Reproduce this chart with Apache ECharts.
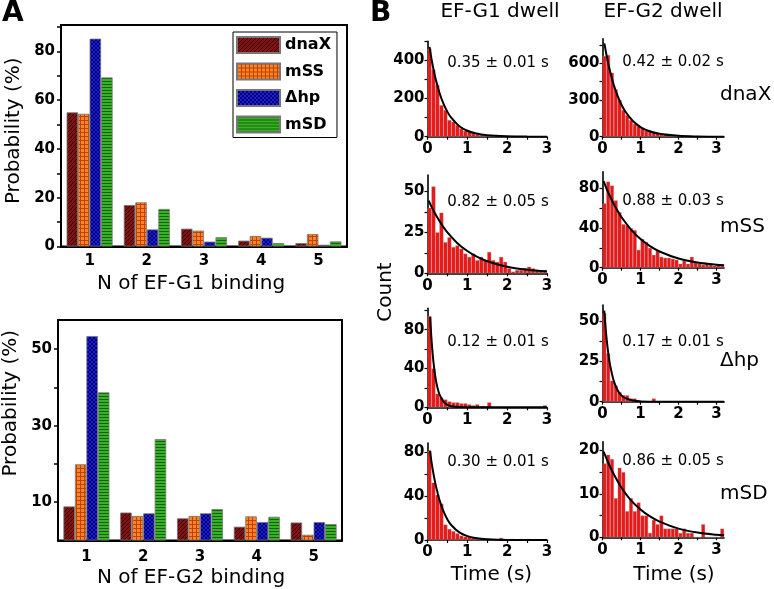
<!DOCTYPE html>
<html><head><meta charset="utf-8">
<script src="https://cdn.jsdelivr.net/npm/echarts@6/dist/echarts.min.js"></script>
<style>html,body{margin:0;padding:0;background:#fff}#c{width:774px;height:589px}</style>
</head><body><div id="c"></div>
<script>
// ---------- Panel A data ----------
const groups = ['1', '2', '3', '4', '5'];
const variants = ['dnaX', 'mSS', 'Δhp', 'mSD'];
const efg1_dnaX = [55.0, 17.0, 7.3, 2.4, 1.4];
const efg1_mSS  = [54.4, 18.1, 6.5, 4.3, 5.1];
const efg1_dhp  = [85.2, 7.0, 2.0, 3.6, 0.7];
const efg1_mSD  = [69.3, 15.4, 3.8, 1.4, 2.1];
const efg2_dnaX = [8.9, 7.3, 5.8, 3.6, 4.7];
const efg2_mSS  = [19.9, 6.4, 6.4, 6.3, 1.5];
const efg2_dhp  = [53.4, 7.1, 7.1, 4.8, 4.8];
const efg2_mSD  = [38.7, 26.5, 8.2, 6.2, 4.3];
const yTicksA1 = [0, 20, 40, 60, 80];
const yTicksA2 = [10, 30, 50];

// ---------- Panel B data ----------
const binCenters = [0.05,0.15,0.25,0.35,0.45,0.55,0.65,0.75,0.85,0.95,1.05,1.15,1.25,1.35,1.45,1.55,
                    1.65,1.75,1.85,1.95,2.05,2.15,2.25,2.35,2.45,2.55,2.65,2.75,2.85,2.95,3.05,3.15];
const hist_dnaX_G1 = [462,351,270,165,139,87,78,61,43,31,26,17,12,9,7,4,3,2,2,1,1,4,3,2,1,1,0,0,0,0];
const hist_dnaX_G2 = [660,668,523,387,300,218,177,136,104,87,68,49,41,33,27,22,16,12,9,7,5,4,3,2,2,1,1,1,0,0,0,0];
const hist_mSS_G1  = [40,53,25,37,19,22,16,17,15,12,10,12,8,10,8,13,8,7,10,7,3,1,2,2,3,4,3,2,1,1];
const hist_mSS_G2  = [65,87,83,68,56,44,43,40,38,18,29,26,20,13,17,11,10,10,9,8,4,7,4,11,5,4,3,4,3,2,3,3];
const hist_dhp_G1  = [94,40,14,10,8,6,5,5,4,4,3,2,3,1,1,5,0,0,0,0,0,0,0,0,0,0,0,0,0,2];
const hist_dhp_G2  = [55,30,13,10,6,4,4,2,2,1,0,0,0,2,0,0,0,0,0,0,0,0,0,0,0,0,0,0,0,0,0,0];
const hist_mSD_G1  = [81,52,41,33,14,10,8,6,4,3,3,2,1,1,1,1,0,1,2,1,0,1,0,1,0,1,0,0,0,0];
const hist_mSD_G2  = [17,19,18,9,16,15,6,9,6,8,5,5,1,4,3,5,2,2,2,2,1,2,1,1,0,0,3,0,0,0,0,2];

const fitT_dnaX_G1 = [0.05,0.1,0.15,0.2,0.3,0.4,0.5,0.6,0.8,1.0,1.2,1.5,2.0,2.5,3.0];
const fitY_dnaX_G1 = [470,407,353,306,230,173,130,98,55,31,17.6,7.5,1.8,0.4,0.1];
const fitT_dnaX_G2 = [0.05,0.1,0.15,0.2,0.3,0.4,0.5,0.6,0.8,1.0,1.2,1.5,2.0,2.5,3.2];
const fitY_dnaX_G2 = [763,677,601,534,420,331,261,206,128,79,49,24,7.3,2.2,0.4];
const fitT_mSS_G1  = [0.03,0.1,0.2,0.3,0.4,0.5,0.75,1.0,1.25,1.5,2.0,2.5,3.0];
const fitY_mSS_G1  = [44.4,40.7,36.0,31.9,28.2,25.0,18.4,13.6,10.0,7.4,4.0,2.2,1.2];
const fitT_mSS_G2  = [0.03,0.1,0.2,0.3,0.4,0.5,0.75,1.0,1.25,1.5,2.0,2.5,3.0,3.2];
const fitY_mSS_G2  = [87.5,80.5,71.9,64.1,57.3,51.1,38.5,29.0,21.8,16.4,9.3,5.3,3.0,2.4];
const fitT_dhp_G1  = [0.067,0.1,0.15,0.2,0.25,0.3,0.4,0.5,0.6,0.8,1.0,2.0,3.0];
const fitY_dhp_G1  = [93,70.4,46.4,30.6,20.2,13.3,5.8,2.5,1.1,0.2,0.05,0,0];
const fitT_dhp_G2  = [0.045,0.1,0.15,0.2,0.3,0.4,0.5,0.6,0.8,1.0,1.5,3.2];
const fitY_dhp_G2  = [56.5,40.9,30.5,22.7,12.6,7.0,3.9,2.2,0.7,0.2,0.02,0];
const fitT_mSD_G1  = [0.06,0.1,0.15,0.2,0.3,0.4,0.5,0.6,0.8,1.0,1.2,1.5,2.0,3.0];
const fitY_mSD_G1  = [81,70.9,60,50.8,36.4,26.1,18.7,13.4,6.9,3.5,1.8,0.7,0.1,0];
const fitT_mSD_G2  = [0.03,0.1,0.25,0.5,0.75,1.0,1.25,1.5,2.0,2.5,3.0,3.2];
const fitY_mSD_G2  = [19.7,18.2,15.3,11.4,8.5,6.4,4.8,3.6,2.0,1.1,0.6,0.5];

const lifetimes = ['0.35 ± 0.01 s','0.42 ± 0.02 s','0.82 ± 0.05 s','0.88 ± 0.03 s',
                   '0.12 ± 0.01 s','0.17 ± 0.01 s','0.30 ± 0.01 s','0.86 ± 0.05 s'];
const rowNames = ['dnaX', 'mSS', 'Δhp', 'mSD'];
const colTitles = ['EF-G1 dwell', 'EF-G2 dwell'];
const xTicksB = [0, 1, 2, 3];
const yTicks_dnaX_G1 = [0,200,400], yTicks_dnaX_G2 = [0,300,600];
const yTicks_mSS_G1 = [0,25,50],   yTicks_mSS_G2 = [0,40,80];
const yTicks_dhp_G1 = [0,40,80],   yTicks_dhp_G2 = [0,25,50];
const yTicks_mSD_G1 = [0,40,80],   yTicks_mSD_G2 = [0,10,20];

// ---------- helpers ----------
const FONT = 'DejaVu Sans';
function pattern(bg, fg, size, draw) {
  const c = document.createElement('canvas');
  c.width = size; c.height = size;
  const g = c.getContext('2d');
  g.fillStyle = bg; g.fillRect(0, 0, size, size);
  g.strokeStyle = fg; g.lineWidth = 1;
  draw(g, size);
  return { image: c, repeat: 'repeat' };
}
const patDnaX = pattern('#7c1212', '#3a0000', 4, (g, s) => {
  g.beginPath(); g.moveTo(-1, s + 1); g.lineTo(s + 1, -1);
  g.moveTo(-1, 1); g.lineTo(1, -1); g.moveTo(s - 1, s + 1); g.lineTo(s + 1, s - 1); g.stroke();
});
const patMSS = pattern('#ff8128', '#b94500', 4, (g, s) => {
  g.beginPath(); g.moveTo(0.5, 0); g.lineTo(0.5, s); g.moveTo(0, 0.5); g.lineTo(s, 0.5); g.stroke();
});
const patDhp = pattern('#1c1ce0', '#000066', 4, (g, s) => {
  g.beginPath(); g.moveTo(0, 0); g.lineTo(s, s); g.moveTo(0, s); g.lineTo(s, 0); g.stroke();
});
const patMSD = pattern('#35b324', '#175f0d', 3, (g, s) => {
  g.beginPath(); g.moveTo(0, 0.5); g.lineTo(s, 0.5); g.stroke();
});
const patterns = [patDnaX, patMSS, patDhp, patMSD];

const grids = [], xAxes = [], yAxes = [], series = [], graphics = [];

// ---------- Panel A ----------
const setsA = [
  { vals: [efg1_dnaX, efg1_mSS, efg1_dhp, efg1_mSD], ticks: yTicksA1, tickMarks: [0,10,20,30,40,50,60,70,80,90],
    box: { left: 61, top: 25, width: 286, height: 221.5 }, max: 90.8, name: 'N of EF-G1 binding',
    namePad: 10, xNamePad: 26, labelMargin: 7 },
  { vals: [efg2_dnaX, efg2_mSS, efg2_dhp, efg2_mSD], ticks: yTicksA2, tickMarks: [10,20,30,40,50],
    box: { left: 58, top: 320, width: 284, height: 220.5 }, max: 57.6, name: 'N of EF-G2 binding',
    namePad: 54, xNamePad: 18, labelMargin: 9 }
];
setsA.forEach((s, i) => {
  grids.push(Object.assign({ show: true, borderColor: '#000', borderWidth: 2, backgroundColor: 'transparent' }, s.box));
  xAxes.push({
    gridIndex: grids.length - 1, type: 'category', data: groups,
    axisLine: { lineStyle: { color: '#000', width: 2 } }, axisTick: { show: false },
    axisLabel: { color: '#000', fontFamily: FONT, fontWeight: 'bold', fontSize: 15, margin: s.labelMargin },
    name: s.name, nameLocation: 'middle', nameGap: 27,
    nameTextStyle: { color: '#000', fontFamily: FONT, fontSize: 20, padding: [0, s.xNamePad, 0, 0] }
  });
  yAxes.push({
    gridIndex: grids.length - 1, type: 'value', min: 0, max: s.max,
    splitLine: { show: false },
    axisLine: { show: true, lineStyle: { color: '#000', width: 2 } },
    axisTick: { show: true, length: 4, customValues: s.tickMarks, lineStyle: { color: '#000', width: 1.5 } },
    axisLabel: { customValues: s.ticks, color: '#000', fontFamily: FONT, fontWeight: 'bold', fontSize: 15, margin: 6 },
    name: 'Probability (%)', nameLocation: 'middle', nameGap: 37,
    nameTextStyle: { color: '#000', fontFamily: FONT, fontSize: 20, padding: [0, 0, 0, s.namePad] }
  });
  s.vals.forEach((v, k) => {
    series.push({
      type: 'bar', name: variants[k], xAxisIndex: xAxes.length - 1, yAxisIndex: yAxes.length - 1,
      data: v, barWidth: 11.5, barGap: '0%',
      itemStyle: { color: patterns[k], borderColor: '#777', borderWidth: 0.8 },
      emphasis: { disabled: true }
    });
  });
});

// ---------- Panel B ----------
const histsB = [hist_dnaX_G1, hist_dnaX_G2, hist_mSS_G1, hist_mSS_G2, hist_dhp_G1, hist_dhp_G2, hist_mSD_G1, hist_mSD_G2];
const fitTB = [fitT_dnaX_G1, fitT_dnaX_G2, fitT_mSS_G1, fitT_mSS_G2, fitT_dhp_G1, fitT_dhp_G2, fitT_mSD_G1, fitT_mSD_G2];
const fitYB = [fitY_dnaX_G1, fitY_dnaX_G2, fitY_mSS_G1, fitY_mSS_G2, fitY_dhp_G1, fitY_dhp_G2, fitY_mSD_G1, fitY_mSD_G2];
const yTicksB = [yTicks_dnaX_G1, yTicks_dnaX_G2, yTicks_mSS_G1, yTicks_mSS_G2, yTicks_dhp_G1, yTicks_dhp_G2, yTicks_mSD_G1, yTicks_mSD_G2];
// layout (pixels)
const colX0 = [427.5, 602.5], colW = [119.5, 121.6], colXMax = [3, 3.2];
const cellY0 = [136.7, 136.7, 273.3, 267.7, 407.3, 401.7, 540, 537.3];
const cellTop = [41.2, 38.9, 175, 171.7, 308.3, 305, 443, 441.7];
const cellYMax = [500, 800, 60, 97, 102, 60, 88, 22];
const textY = [62.8, 62, 202, 201, 342.5, 342, 461.7, 460.8];
const textX = [498, 673];
const rowLabelY = [94.5, 227, 360.7, 494];

for (let p = 0; p < 8; p++) {
  const c = p % 2;
  grids.push({ left: colX0[c], top: cellTop[p], width: colW[c], height: cellY0[p] - cellTop[p] });
  const gi = grids.length - 1;
  xAxes.push({
    gridIndex: gi, type: 'value', min: 0, max: colXMax[c], splitLine: { show: false },
    axisLine: { onZero: false, lineStyle: { color: '#000', width: 1.6 } },
    axisTick: { customValues: [0, 0.5, 1, 1.5, 2, 2.5, 3], length: 3, lineStyle: { color: '#000', width: 1.2 } },
    axisLabel: { customValues: xTicksB, color: '#000', fontFamily: FONT, fontWeight: 'bold', fontSize: 15, margin: 5 }
  });
  const yt = yTicksB[p];
  const step = yt[1] - yt[0];
  const tm = [];
  for (let v = 0; v <= cellYMax[p] + 1e-9; v += step / 2) tm.push(v);
  yAxes.push({
    gridIndex: gi, type: 'value', min: 0, max: cellYMax[p], splitLine: { show: false },
    axisLine: { show: true, onZero: false, lineStyle: { color: '#000', width: 1.6 } },
    axisTick: { show: true, customValues: tm, length: 3, lineStyle: { color: '#000', width: 1.2 } },
    axisLabel: { customValues: yt, color: '#000', fontFamily: FONT, fontWeight: 'bold', fontSize: 15, margin: 3 }
  });
  const pxPerUnit = colW[c] / colXMax[c];
  series.push({
    type: 'bar', xAxisIndex: xAxes.length - 1, yAxisIndex: yAxes.length - 1,
    data: histsB[p].map((v, i) => [binCenters[i], v]),
    barWidth: 0.1 * pxPerUnit, barGap: '0%',
    itemStyle: { color: '#f01414', borderColor: 'rgba(140,140,140,0.7)', borderWidth: 0.5 },
    emphasis: { disabled: true }, silent: true
  });
  series.push({
    type: 'line', xAxisIndex: xAxes.length - 1, yAxisIndex: yAxes.length - 1,
    data: fitTB[p].map((t, i) => [t, fitYB[p][i]]),
    smooth: 0.35, symbol: 'none', lineStyle: { color: '#000', width: 2 }, z: 5, silent: true
  });
  graphics.push({ type: 'text', x: textX[c], y: textY[p],
    style: { text: lifetimes[p], fontFamily: FONT, fontSize: 15, fill: '#000', align: 'center', verticalAlign: 'middle',
             textAlign: 'center', textVerticalAlign: 'middle' } });
}
// row / column labels
rowNames.forEach((n, r) => graphics.push({ type: 'text', x: 720, y: rowLabelY[r],
  style: { text: n, fontFamily: FONT, fontSize: 20, fill: '#000', align: 'left', verticalAlign: 'middle', textAlign: 'left', textVerticalAlign: 'middle' } }));
colTitles.forEach((n, c) => graphics.push({ type: 'text', x: [500, 663][c], y: 12,
  style: { text: n, fontFamily: FONT, fontSize: 20, fill: '#000', align: 'center', verticalAlign: 'middle', textAlign: 'center', textVerticalAlign: 'middle' } }));
['Time (s)', 'Time (s)'].forEach((n, c) => graphics.push({ type: 'text', x: [491.5, 674][c], y: 575,
  style: { text: n, fontFamily: FONT, fontSize: 20, fill: '#000', align: 'center', verticalAlign: 'middle', textAlign: 'center', textVerticalAlign: 'middle' } }));
graphics.push({ type: 'text', x: 386, y: 292, rotation: Math.PI / 2,
  style: { text: 'Count', fontFamily: FONT, fontSize: 20, fill: '#000', align: 'center', verticalAlign: 'middle', textAlign: 'center', textVerticalAlign: 'middle' } });
graphics.push({ type: 'text', x: 2, y: 14,
  style: { text: 'A', fontFamily: FONT, fontSize: 28, fontWeight: 'bold', fill: '#000', align: 'left', verticalAlign: 'middle', textAlign: 'left', textVerticalAlign: 'middle' } });
graphics.push({ type: 'text', x: 370, y: 14,
  style: { text: 'B', fontFamily: FONT, fontSize: 28, fontWeight: 'bold', fill: '#000', align: 'left', verticalAlign: 'middle', textAlign: 'left', textVerticalAlign: 'middle' } });

const chart = echarts.init(document.getElementById('c'), null, { renderer: 'canvas' });
chart.setOption({
  animation: false,
  backgroundColor: '#fff',
  textStyle: { fontFamily: FONT },
  grid: grids, xAxis: xAxes, yAxis: yAxes, series: series, graphic: graphics,
  legend: {
    data: variants, left: 233, top: 32, orient: 'vertical', icon: 'rect',
    itemWidth: 43, itemHeight: 16, itemGap: 8.5,
    borderColor: '#000', borderWidth: 1, padding: [4, 6, 4, 3],
    textStyle: { color: '#000', fontFamily: FONT, fontWeight: 'bold', fontSize: 16 },
    selectedMode: false
  }
});
</script></body></html>
